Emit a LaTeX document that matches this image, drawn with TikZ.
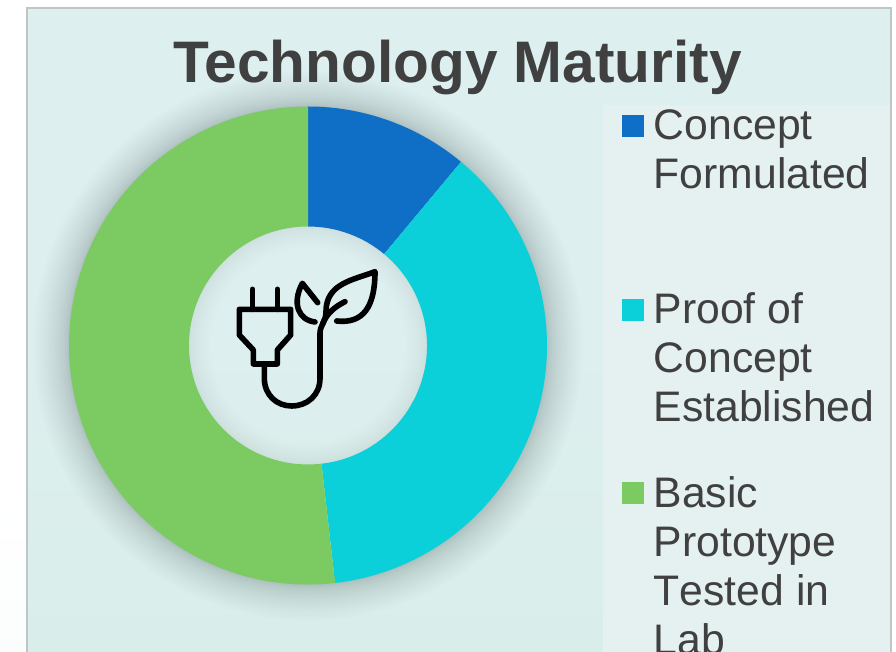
\documentclass[tikz,border=0pt]{standalone}
\usepackage{fontspec}
\setmainfont{Liberation Sans}
\definecolor{txt}{HTML}{404040}
\definecolor{cblue}{HTML}{0F6FC6}
\definecolor{ccyan}{HTML}{0BD0D9}
\definecolor{cgreen}{HTML}{7CCA62}
\definecolor{paneltop}{HTML}{DDEFEF}
\definecolor{panelbot}{HTML}{D9EEEA}
\definecolor{legendbg}{HTML}{E5F1F1}
\definecolor{border}{HTML}{BFC6C6}
\tikzset{
  titletext/.style={font=\fontsize{58.6}{60}\selectfont\bfseries,text=txt,inner sep=0pt,anchor=base},
  legendtext/.style={font=\fontsize{42.7}{49}\selectfont,text=txt,inner sep=0pt,align=left,anchor=north west},
  swatch/.style={minimum size=22pt,inner sep=0pt,outer sep=0pt,draw=none,anchor=north west},
  iconline/.style={draw=black,line width=5.6pt,line cap=round,line join=round},
}
\newcommand{\ringseg}[3]{\fill[#1] ([shift={(#2:239)}]ctr) arc[start angle=#2,end angle=#3,radius=239pt] -- ([shift={(#3:119)}]ctr) arc[start angle=#3,end angle=#2,radius=119pt] -- cycle;}
\begin{document}
\begin{tikzpicture}[x=1pt,y=1pt]
\useasboundingbox (0,0) rectangle (896,652);
\begin{scope}
\clip (0,0) rectangle (896,652);
\shade[bottom color=white!90!panelbot,top color=white] (0,0) rectangle (27,160);
\shade[top color=paneltop,bottom color=panelbot,middle color=paneltop] (27,-2) rectangle (891,644);
\fill[legendbg] (603,-2) rectangle (890,547);
\draw[border,line width=2pt] (27,-4) -- (27,644) -- (891,644) -- (891,-4);
\coordinate (ctr) at (308,306.5);
\foreach \i in {1,...,24}{
  \fill[black,opacity=0.0062,even odd rule] (ctr) circle[radius={239pt+36pt*(\i/24)^1.6}] (ctr) circle[radius=230pt];
}
\foreach \i in {1,...,16}{
  \fill[black,opacity=0.0058,even odd rule] (ctr) circle[radius=125pt] (ctr) circle[radius={119pt-22pt*(\i/16)^1.4}];
}
\ringseg{cblue}{90}{50.2}
\ringseg{ccyan}{50.2}{-83.5}
\ringseg{cgreen}{-83.5}{-270}
\node[titletext] (title) at (457.5,569) {Technology Maturity};
\node[swatch,fill=cblue] (sw1) at (622,537) {};
\node[swatch,fill=ccyan] (sw2) at (622,353) {};
\node[swatch,fill=cgreen] (sw3) at (622,170) {};
\node[legendtext] (lg1) at (653.5,543) {Concept\\Formulated};
\node[legendtext] (lg2) at (653.5,360) {Proof of\\Concept\\Established};
\node[legendtext] (lg3) at (653.5,176) {Basic\\Prototype\\T\kern0pt ested in\\Lab};
\begin{scope}[shift={(220,402)},x=0.33333pt,y=-0.33333pt]
  % plug
  \draw[iconline] (97,118) -- (97,178) (172,118) -- (172,178);
  \draw[iconline] (58,178) -- (58,255) -- (100,300) -- (100,342) -- (172,342) -- (172,300) -- (212,255) -- (212,178) -- cycle;
  % cord
  \draw[iconline] (133,342) -- (133,385) .. controls (133,435) and (170,468) .. (215,468) .. controls (262,468) and (300,435) .. (300,385) -- (300,250) .. controls (300,225) and (318,215) .. (318,185);
  % big leaf
  \draw[iconline] (350,213) .. controls (430,222) and (465,170) .. (465,65) .. controls (400,90) and (318,100) .. (318,185);
  \draw[iconline] (375,155) .. controls (345,170) and (320,190) .. (308,222);
  % small leaf
  \draw[iconline] (285,216) .. controls (235,210) and (215,160) .. (247,100) -- (293,158);
\end{scope}
\end{scope}
\end{tikzpicture}
\end{document}
